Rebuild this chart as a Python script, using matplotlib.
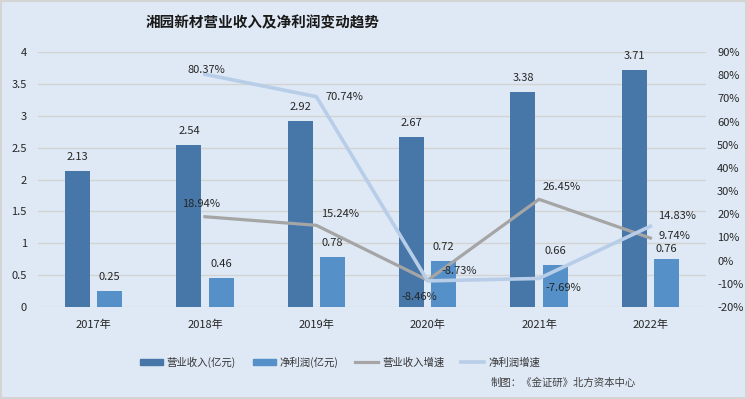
import matplotlib
matplotlib.use("Agg")
import matplotlib.pyplot as plt
from matplotlib.patches import Patch, Rectangle
from matplotlib.lines import Line2D
import numpy as np

plt.rcParams['font.family'] = ['Noto Sans CJK SC', 'DejaVu Sans']

years = ['2017年', '2018年', '2019年', '2020年', '2021年', '2022年']
revenue = [2.13, 2.54, 2.92, 2.67, 3.38, 3.71]
profit = [0.25, 0.46, 0.78, 0.72, 0.66, 0.76]
rev_growth = [18.94, 15.24, -8.46, 26.45, 9.74]      # 2018-2022
profit_growth = [80.37, 70.74, -8.73, -7.69, 14.83]  # 2018-2022
left_ticks = [0, 0.5, 1, 1.5, 2, 2.5, 3, 3.5, 4]
right_ticks = [-20, -10, 0, 10, 20, 30, 40, 50, 60, 70, 80, 90]

bg = '#dfe9f5'
c_rev = '#4677a8'
c_pro = '#5590c8'
c_rg = '#a5a5a5'
c_pg = '#b7cde8'
txt = '#262626'

fig = plt.figure(figsize=(7.47, 3.99), dpi=100, facecolor=bg)
ax = fig.add_axes([38/747, 1-307/399, 668/747, 255/399])
ax.set_facecolor('none')
ax2 = ax.twinx()
ax2.set_facecolor('none')

x = np.arange(len(years))
w = 0.225
off = 0.144
ax.bar(x - off, revenue, w, color=c_rev, zorder=2)
ax.bar(x + off, profit, w, color=c_pro, zorder=2)
for xi, v in zip(x - off, revenue):
    ax.annotate(f'{v:.2f}', (xi, v), xytext=(0, 14), textcoords='offset pixels',
                ha='center', va='center', fontsize=8, color=txt)
pro_lab_dy = [14, 14, 14, 14, 14, 10]
for xi, v, dy in zip(x + off, profit, pro_lab_dy):
    ax.annotate(f'{v:.2f}', (xi, v), xytext=(0, dy), textcoords='offset pixels',
                ha='center', va='center', fontsize=8, color=txt)

ax.set_xlim(-0.5, len(years) - 0.5)
ax.set_ylim(0, 4)
ax.set_yticks(left_ticks)
ax.set_yticklabels([f'{t:g}' for t in left_ticks])
ax.set_xticks(x)
ax.set_xticklabels(years)
ax.tick_params(axis='both', length=0, labelsize=8, labelcolor=txt)
ax.tick_params(axis='y', pad=8)
ax.tick_params(axis='x', pad=9)
ax.grid(axis='y', color='#d3d3d3', linewidth=1, zorder=0)
ax.set_axisbelow(True)
for s in ax.spines.values():
    s.set_visible(False)
for s in ax2.spines.values():
    s.set_visible(False)

lx = x[1:]
ax2.plot(lx, np.array(rev_growth) / 100, color=c_rg, linewidth=2.3, zorder=3)
ax2.plot(lx, np.array(profit_growth) / 100, color=c_pg, linewidth=2.6, zorder=3)
ax2.set_ylim(-0.2, 0.9)
ax2.set_yticks(np.array(right_ticks) / 100)
ax2.set_yticklabels([f'{t}%' for t in right_ticks])
ax2.tick_params(axis='y', length=0, labelsize=8, labelcolor=txt, pad=8)

rg_off = [(-4, 13), (24, 11), (-8, -17), (23, 12), (24, 2)]
pg_off = [(1, 4), (28, 0), (32, 10), (24, -10), (27, 10)]
for xi, v, o in zip(lx, rev_growth, rg_off):
    ax2.annotate(f'{v:.2f}%', (xi, v / 100), xytext=o, textcoords='offset pixels',
                 ha='center', va='center', fontsize=8, color=txt, zorder=5)
for xi, v, o in zip(lx, profit_growth, pg_off):
    ax2.annotate(f'{v:.2f}%', (xi, v / 100), xytext=o, textcoords='offset pixels',
                 ha='center', va='center', fontsize=8, color=txt, zorder=5)

fig.text(263/747, 1-22/399, '湘园新材营业收入及净利润变动趋势', ha='center', va='center',
         fontsize=10.5, fontweight='bold', color='#1a1a1a')

handles = [Patch(color=c_rev), Patch(color=c_pro),
           Line2D([], [], color=c_rg, linewidth=2.3),
           Line2D([], [], color=c_pg, linewidth=2.6)]
labels = ['营业收入(亿元)', '净利润(亿元)', '营业收入增速', '净利润增速']
fig.legend(handles, labels, ncol=4, loc='center', bbox_to_anchor=(340/747, 1-362/399),
           frameon=False, fontsize=7.5, handlelength=2.2, handleheight=0.6,
           handletextpad=0.4, columnspacing=1.6, labelcolor='#333333')

fig.text(636/747, 1-383/399, '制图：《金证研》北方资本中心', ha='right', va='center',
         fontsize=7.5, color='#404040')

fig.patches.append(Rectangle((0, 0), 1, 1, transform=fig.transFigure, fill=False,
                             edgecolor='#d4d4d4', linewidth=3))

fig.savefig('out.png', dpi=100, facecolor=bg)
